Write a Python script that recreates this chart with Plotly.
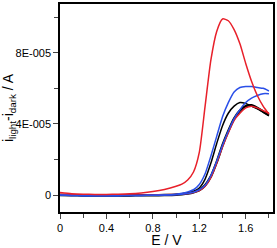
import plotly.graph_objects as go

E = [0.0, 0.1, 0.2, 0.3, 0.4, 0.5, 0.6, 0.7, 0.8, 0.9, 1.0, 1.05, 1.1, 1.15, 1.2, 1.25,
     1.3, 1.35, 1.4, 1.45, 1.5, 1.55, 1.6, 1.65, 1.7, 1.75, 1.8]
# currents in units of 1e-5 A
red1 = [0.15, 0.08, 0.05, 0.04, 0.04, 0.05, 0.07, 0.12, 0.2, 0.32, 0.5, 0.62, 0.85, 1.3, 2.4, 5.0,
        7.6, 9.2, 9.9, 9.8, 9.3, 8.5, 7.4, 6.4, 5.6, 5.0, 4.55]
red2 = [0.05, 0.02, 0.0, 0.0, 0.0, 0.0, 0.0, 0.0, 0.01, 0.02, 0.04, 0.06, 0.09, 0.15, 0.25, 0.5,
        1.0, 1.8, 2.7, 3.5, 4.2, 4.6, 4.9, 5.0, 4.9, 4.75, 4.6]
blue1 = [0.0, -0.02, -0.03, -0.03, -0.03, -0.03, -0.02, -0.02, -0.01, 0.0, 0.05, 0.1, 0.18, 0.3, 0.6, 1.2,
         2.2, 3.3, 4.4, 5.2, 5.8, 6.05, 6.1, 6.1, 6.05, 6.0, 5.85]
blue2 = [0.0, -0.02, -0.03, -0.03, -0.03, -0.03, -0.02, -0.02, -0.01, 0.0, 0.02, 0.05, 0.09, 0.16, 0.3, 0.55,
         1.1, 1.9, 2.8, 3.6, 4.3, 4.8, 5.2, 5.45, 5.6, 5.7, 5.7]
black1 = [0.0, -0.01, -0.02, -0.02, -0.02, -0.02, -0.02, -0.01, -0.01, 0.0, 0.03, 0.07, 0.12, 0.22, 0.4, 0.9,
          1.8, 2.9, 3.9, 4.6, 5.0, 5.2, 5.15, 5.0, 4.85, 4.65, 4.45]
black2 = [0.0, -0.01, -0.02, -0.02, -0.02, -0.02, -0.02, -0.01, -0.01, 0.0, 0.02, 0.05, 0.09, 0.16, 0.28, 0.55,
          1.05, 1.85, 2.8, 3.6, 4.3, 4.75, 5.0, 5.05, 4.9, 4.7, 4.5]

scale = 1e-5
def s(v):
    return [x * scale for x in v]

xtickvals = [0, 0.4, 0.8, 1.2, 1.6]
xticktext = ["0", "0.4", "0.8", "1.2", "1.6"]
ytickvals = [0, 4e-5, 8e-5]
yticktext = ["0", "4E-005", "8E-005"]

fig = go.Figure()
series = [
    (black2, "black", 2.5),
    (black1, "black", 1.5),
    (red2, "#e8202a", 1.5),
    (blue2, "#2a4fe8", 1.5),
    (blue1, "#2a4fe8", 1.5),
    (red1, "#e8202a", 1.5),
]
for ys, col, w in series:
    fig.add_trace(go.Scatter(x=E, y=s(ys), mode="lines", line=dict(color=col, width=w, shape="spline", smoothing=0.6),
                             showlegend=False, hoverinfo="skip"))

fig.update_layout(
    width=277, height=248,
    margin=dict(l=60, r=2, t=2, b=34),
    paper_bgcolor="white", plot_bgcolor="white",
    font=dict(family="Liberation Sans, Arial, sans-serif", size=11, color="black"),
    xaxis=dict(range=[0, 1.835], tickvals=xtickvals, ticktext=xticktext, ticks="outside", ticklen=5,
               tickwidth=1, showgrid=False, zeroline=False, showline=True, linecolor="black", linewidth=1.5,
               mirror=True, minor=dict(dtick=0.2, ticks="outside", ticklen=4, tickwidth=1),
               title=dict(text="E / V", font=dict(size=14), standoff=2)),
    yaxis=dict(range=[-0.95e-5, 10.74e-5], tickvals=ytickvals, ticktext=yticktext, ticks="outside", ticklen=5,
               tickwidth=1, showgrid=False, zeroline=False, showline=True, linecolor="black", linewidth=1.5,
               mirror=True, minor=dict(tickvals=[2e-5, 6e-5, 10e-5], ticks="outside", ticklen=4, tickwidth=1),
               title=dict(text="i<sub>light</sub>-i<sub>dark</sub> / A", font=dict(size=14), standoff=4)),
)

fig.write_html("out.html", config={"displayModeBar": False},
               post_script="document.body.style.margin='0';document.body.style.overflow='hidden';")
